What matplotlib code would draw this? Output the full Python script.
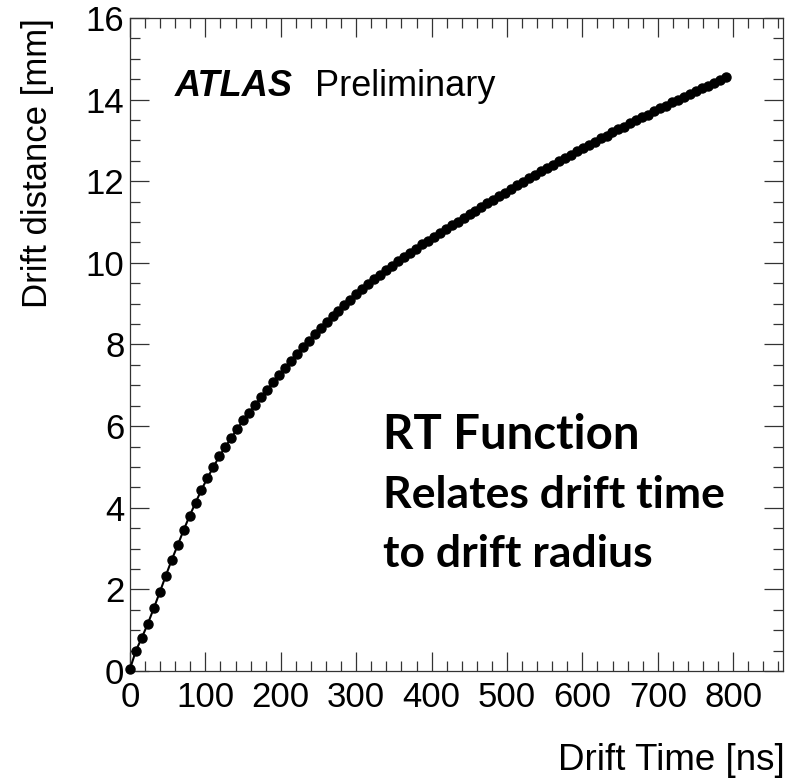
import matplotlib
matplotlib.use('Agg')
import matplotlib.pyplot as plt
from matplotlib.ticker import MultipleLocator

# r-t points
drift_time = [0.0, 7.9, 15.8, 23.7, 31.6, 39.5, 47.4, 55.3, 63.2, 71.1,
              79.0, 86.9, 94.8, 102.7, 110.6, 118.5, 126.4, 134.3, 142.2, 150.1,
              158.0, 165.9, 173.8, 181.7, 189.6, 197.5, 205.4, 213.3, 221.2, 229.1,
              237.0, 244.9, 252.8, 260.7, 268.6, 276.5, 284.4, 292.3, 300.2, 308.1,
              316.0, 323.9, 331.8, 339.7, 347.6, 355.5, 363.4, 371.3, 379.2, 387.1,
              395.0, 402.9, 410.8, 418.7, 426.6, 434.5, 442.4, 450.3, 458.2, 466.1,
              474.0, 481.9, 489.8, 497.7, 505.6, 513.5, 521.4, 529.3, 537.2, 545.1,
              553.0, 560.9, 568.8, 576.7, 584.6, 592.5, 600.4, 608.3, 616.2, 624.1,
              632.0, 639.9, 647.8, 655.7, 663.6, 671.5, 679.4, 687.3, 695.2, 703.1,
              711.0, 718.9, 726.8, 734.7, 742.6, 750.5, 758.4, 766.3, 774.2, 782.1,
              790.0]
drift_dist = [0.05, 0.50, 0.82, 1.16, 1.54, 1.93, 2.33, 2.72, 3.08, 3.45,
              3.80, 4.12, 4.44, 4.73, 5.00, 5.26, 5.49, 5.71, 5.93, 6.14,
              6.33, 6.52, 6.71, 6.89, 7.07, 7.25, 7.42, 7.60, 7.77, 7.93,
              8.09, 8.25, 8.40, 8.55, 8.69, 8.83, 8.97, 9.10, 9.23, 9.36,
              9.48, 9.60, 9.71, 9.82, 9.93, 10.04, 10.14, 10.25, 10.35, 10.45,
              10.54, 10.64, 10.73, 10.82, 10.92, 11.01, 11.10, 11.19, 11.28, 11.37,
              11.46, 11.55, 11.64, 11.72, 11.81, 11.90, 11.98, 12.07, 12.15, 12.24,
              12.32, 12.40, 12.49, 12.57, 12.65, 12.73, 12.81, 12.89, 12.97, 13.05,
              13.12, 13.20, 13.27, 13.34, 13.42, 13.49, 13.57, 13.63, 13.71, 13.79,
              13.85, 13.93, 13.99, 14.07, 14.14, 14.21, 14.28, 14.34, 14.41, 14.48,
              14.55]

x_ticks = [0, 100, 200, 300, 400, 500, 600, 700, 800]
y_ticks = [0, 2, 4, 6, 8, 10, 12, 14, 16]

plt.rcParams['font.family'] = ['Liberation Sans', 'DejaVu Sans']

fig = plt.figure(figsize=(7.94, 7.78), dpi=100)
ax = fig.add_axes([0.1637, 0.1375, 0.8224, 0.8394])

ax.plot(drift_time, drift_dist, color='black', lw=1.5, marker='o', ms=6.5,
        mfc='black', mec='black', clip_on=False, zorder=3)

ax.set_xlim(0, 866)
ax.set_ylim(0, 16)
ax.set_xticks(x_ticks)
ax.set_yticks(y_ticks)
ax.xaxis.set_minor_locator(MultipleLocator(20))
ax.yaxis.set_minor_locator(MultipleLocator(0.5))
ax.tick_params(which='both', direction='in', top=True, right=True, width=0.9,
               labelsize=25, color='#333333')
ax.tick_params(which='major', length=14)
ax.tick_params(which='minor', length=7)
ax.tick_params(axis='x', pad=7)
ax.tick_params(axis='y', pad=4)
for s in ax.spines.values():
    s.set_linewidth(0.9)
    s.set_color('#333333')

# axis titles, ROOT style (at the ends)
fig.text(785 / 794, 8 / 778, 'Drift Time [ns]', ha='right', va='baseline', fontsize=26.5)
fig.text(38 / 794, 1 - 18 / 778, 'Drift distance [mm]', rotation=90, ha='center',
         va='top', fontsize=25)

ax.text(0.069, 0.8806, 'ATLAS', transform=ax.transAxes, fontsize=26,
        fontweight='bold', fontstyle='italic')
ax.text(0.283, 0.8806, 'Preliminary', transform=ax.transAxes, fontsize=26)

ax.text(0.387, 0.340, 'RT Function', transform=ax.transAxes, fontsize=34,
        fontweight='bold', family=['Lato', 'DejaVu Sans'])
ax.text(0.387, 0.250, 'Relates drift time', transform=ax.transAxes, fontsize=32,
        fontweight='bold', family=['Lato', 'DejaVu Sans'])
ax.text(0.387, 0.159, 'to drift radius', transform=ax.transAxes, fontsize=32,
        fontweight='bold', family=['Lato', 'DejaVu Sans'])

fig.savefig('out.png', dpi=100)
